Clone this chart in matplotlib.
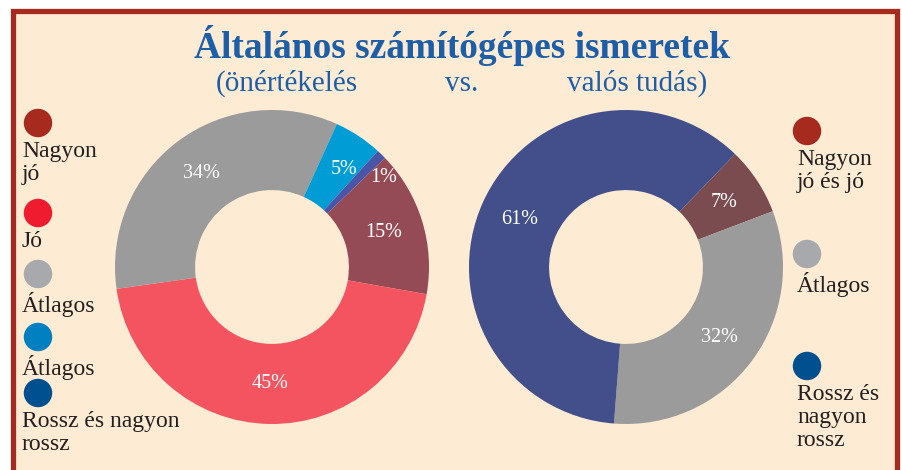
import matplotlib
matplotlib.use("Agg")
import matplotlib.pyplot as plt
from matplotlib.patches import Rectangle
import numpy as np

# self assessment (left donut)
left_labels = ["Nagyon\njó", "Jó", "Átlagos", "Átlagos", "Rossz és nagyon\nrossz"]
left_values = [15, 45, 34, 5, 1]
left_slice_colors = ["#954B55", "#F4545F", "#9B9B9B", "#009CD6", "#4A55A8"]
left_dot_colors = ["#A62A1E", "#EE1C2E", "#A7A9AC", "#0080C0", "#00508F"]

# real knowledge (right donut)
right_labels = ["Nagyon\njó és jó", "Átlagos", "Rossz és\nnagyon\nrossz"]
right_values = [7, 32, 61]
right_slice_colors = ["#7A4B4F", "#9B9B9B", "#434F8A"]
right_dot_colors = ["#A62A1E", "#A7A9AC", "#00508F"]

W, H = 903, 470
R = 157  # outer radius in pixels
BG = "#FEEBD3"
BORDER = "#A62A1E"
TITLE_BLUE = "#1C5EA8"
TEXT = "#231F20"
SERIF = ["Liberation Serif", "DejaVu Serif"]


def py(y):
    # pixel row (from top) -> data y
    return H - y


fig = plt.figure(figsize=(W / 100, H / 100), dpi=100)
fig.patch.set_facecolor("white")
ax = fig.add_axes([0, 0, 1, 1])

# background + frame
ax.add_patch(Rectangle((13.5, py(480)), 884, 480 - 10.5, facecolor=BG,
                       edgecolor=BORDER, linewidth=3.8, zorder=0))

# donuts
ring = dict(width=R * 0.51, edgecolor="none")
pct_style = dict(color="white", fontsize=14.5, family=SERIF)
_, _, left_pct = ax.pie(left_values, colors=left_slice_colors, startangle=44,
                        counterclock=False, radius=R, center=(272, py(267)),
                        wedgeprops=ring, autopct="%d%%", pctdistance=0.745,
                        textprops=pct_style)
_, _, right_pct = ax.pie(right_values, colors=right_slice_colors, startangle=46,
                         counterclock=False, radius=R, center=(626, py(267)),
                         wedgeprops=ring, autopct="%d%%", pctdistance=0.745,
                         textprops=pct_style)

# small slices on the left: push labels apart so 1% does not sit on 5%
start = 44
for v, t in zip(left_values, left_pct):
    mid = np.deg2rad(start - v * 3.6 / 2)
    if v == 1:
        mid -= np.deg2rad(7)
        r = R * 0.91
        t.set_position((272 + r * np.cos(mid), py(267) + r * np.sin(mid)))
    elif v == 5:
        mid -= np.deg2rad(3)
        r = R * 0.77
        t.set_position((272 + r * np.cos(mid), py(267) + r * np.sin(mid)))
    start -= v * 3.6

ax.set_xlim(0, W)
ax.set_ylim(0, H)
ax.set_aspect("equal")
ax.axis("off")

# title
ax.text(462, py(58), "Általános számítógépes ismeretek", ha="center",
        va="baseline", fontsize=27, fontweight="bold", color=TITLE_BLUE, family=SERIF)
sub = dict(ha="center", va="baseline", fontsize=21, color=TITLE_BLUE, family=SERIF)
ax.text(287, py(91), "(önértékelés", **sub)
ax.text(462, py(91), "vs.", **sub)
ax.text(637, py(91), "valós tudás)", **sub)

# left legend
left_dot_y = [123, 213, 274, 337, 393]
for lab, c, y in zip(left_labels, left_dot_colors, left_dot_y):
    ax.scatter(38, py(y), s=420, color=c, edgecolor="none", zorder=3)
    ax.text(22, py(y + 18), lab, ha="left", va="top", fontsize=17,
            color=TEXT, family=SERIF, linespacing=1.12)

# right legend
right_dot_y = [131, 254, 366]
for lab, c, y in zip(right_labels, right_dot_colors, right_dot_y):
    ax.scatter(807, py(y), s=420, color=c, edgecolor="none", zorder=3)
    ax.text(797, py(y + 18), lab, ha="left", va="top", fontsize=17,
            color=TEXT, family=SERIF, linespacing=1.12)

fig.savefig("out.png", dpi=100, facecolor=fig.get_facecolor())
